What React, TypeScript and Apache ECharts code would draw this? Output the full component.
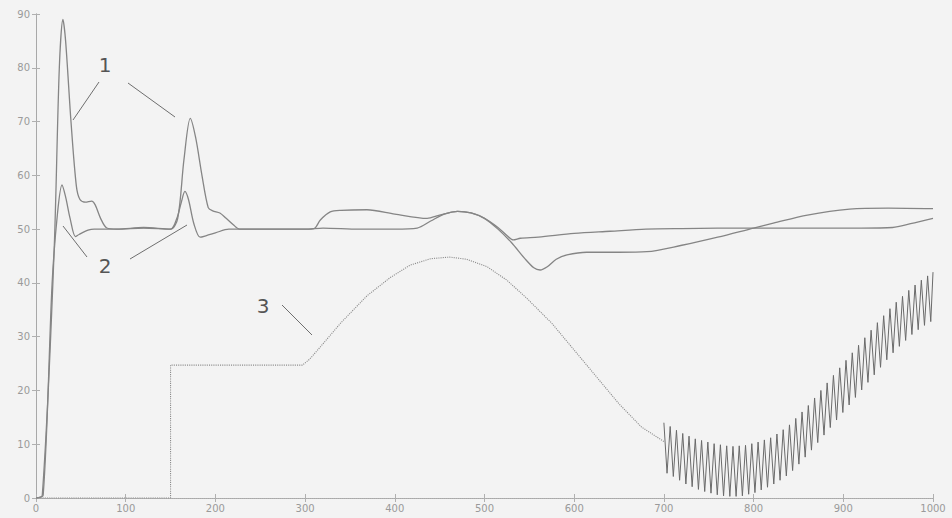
import React, { useEffect, useRef } from "react";
import * as echarts from "echarts";

const xTicks = [0, 100, 200, 300, 400, 500, 600, 700, 800, 900, 1000];
const yTicks = [0, 10, 20, 30, 40, 50, 60, 70, 80, 90];

// curve 1 (tall peaks)
const curve1: [number, number][] = [
  [0, 0], [7, 0.5], [20, 45], [26, 80], [30, 89], [33, 85], [39, 70], [45, 58], [49, 55.5],
  [55, 55], [62, 55.2], [66, 54.5], [72, 52], [79, 50.2], [90, 50], [120, 50.3], [150, 50],
  [158, 52], [165, 63], [172, 70.6], [178, 67], [185, 60], [192, 54], [197, 53.4], [205, 53],
  [212, 52], [220, 50.8], [227, 50], [260, 50], [300, 50], [320, 50.2], [360, 50], [400, 50],
  [425, 50.2], [440, 51.5], [455, 52.8], [470, 53.3], [485, 53], [500, 52], [515, 50.3],
  [525, 48.8], [532, 48], [540, 48.3], [560, 48.5], [600, 49.2], [640, 49.6], [680, 50],
  [720, 50.1], [800, 50.2], [860, 50.2], [920, 50.2], [955, 50.3], [975, 51], [1000, 52],
];

// curve 2 (lower peaks)
const curve2: [number, number][] = [
  [0, 0], [8, 0.5], [18, 40], [24, 53], [29, 58.2], [33, 56], [38, 52], [44, 48.6], [48, 49],
  [58, 49.8], [65, 50], [90, 50], [120, 50.2], [150, 50], [157, 52], [162, 55], [166, 57],
  [170, 55.5], [176, 51], [183, 48.5], [190, 48.8], [200, 49.3], [215, 50], [260, 50],
  [300, 50], [310, 50.1], [317, 51.7], [328, 53.2], [340, 53.5], [369, 53.6], [400, 52.8],
  [436, 52], [450, 52.6], [470, 53.3], [485, 53], [500, 52], [515, 50], [530, 47.5],
  [545, 44.5], [555, 42.8], [562, 42.4], [570, 43], [580, 44.4], [592, 45.2], [614, 45.7],
  [650, 45.7], [681, 45.8], [720, 47], [760, 48.5], [800, 50.2], [822, 51.1], [860, 52.6],
  [907, 53.7], [950, 53.9], [1000, 53.8],
];

// curve 3 (reference, smooth part)
const curve3: [number, number][] = [
  [0, 0], [150, 0], [150, 24.7], [297, 24.7], [305, 25.8], [317, 28.1], [340, 32.6],
  [369, 37.6], [395, 41], [417, 43.3], [440, 44.5], [461, 44.8], [480, 44.4], [503, 43],
  [525, 40.5], [548, 37], [575, 32.5], [600, 27.5], [625, 22.5], [650, 17.5], [675, 13.2],
  [700, 10.5],
];

// curve 3 (oscillating part)
const curve3Osc: [number, number][] = [
  [700, 14], [703.5, 4.6], [707, 13.3], [710.5, 4], [714, 12.6], [717.5, 3.3], [721, 12],
  [724.5, 2.6], [728, 11.5], [731.5, 2.1], [735, 11], [738.5, 1.6], [742, 10.7], [745.5, 1.2],
  [749, 10.4], [752.5, 0.9], [756, 10.1], [759.5, 0.6], [763, 9.9], [766.5, 0.4], [770, 9.7],
  [773.5, 0.3], [777, 9.6], [780.5, 0.3], [784, 9.7], [787.5, 0.4], [791, 9.8], [794.5, 0.7],
  [798, 10.1], [801.5, 1], [805, 10.4], [808.5, 1.5], [812, 10.8], [815.5, 2], [819, 11.2],
  [822.5, 2.6], [826, 11.9], [829.5, 3.3], [833, 12.7], [836.5, 4.1], [840, 13.6], [843.5, 5.1],
  [847, 14.8], [850.5, 6.3], [854, 16], [857.5, 7.6], [861, 17.2], [864.5, 8.9], [868, 18.6],
  [871.5, 10.3], [875, 20], [878.5, 11.7], [882, 21.4], [885.5, 13.1], [889, 22.8],
  [892.5, 14.5], [896, 24.2], [899.5, 15.9], [903, 25.6], [906.5, 17.3], [910, 27],
  [913.5, 18.7], [917, 28.4], [920.5, 20.1], [924, 29.8], [927.5, 21.5], [931, 31.2],
  [934.5, 22.9], [938, 32.6], [941.5, 24.3], [945, 33.9], [948.5, 25.7], [952, 35.2],
  [955.5, 27], [959, 36.4], [962.5, 28.2], [966, 37.5], [969.5, 29.3], [973, 38.6],
  [976.5, 30.4], [980, 39.6], [983.5, 31.3], [987, 40.5], [990.5, 32.1], [994, 41.3],
  [997.5, 32.8], [1000, 42],
];

const labels = ["1", "2", "3"];

export default function App() {
  const ref = useRef<HTMLDivElement>(null);
  useEffect(() => {
    if (!ref.current) return;
    const chart = echarts.init(ref.current, undefined, { renderer: "svg" });
    const axisLabel = { color: "#9a9a9a", fontSize: 10, fontFamily: "DejaVu Sans" };
    const tick = { show: true, inside: true, length: 4, lineStyle: { color: "#b0b0b0" } };
    const lineColor = "#858585";
    const leader = (x1: number, y1: number, x2: number, y2: number) => ({
      type: "line",
      shape: { x1, y1, x2, y2 },
      style: { stroke: "#6e6e6e", lineWidth: 1 },
      z: 10,
    });
    const label = (text: string, x: number, y: number) => ({
      type: "text",
      x,
      y,
      style: {
        text,
        fill: "#555",
        font: "20px 'DejaVu Sans'",
        align: "center",
        verticalAlign: "middle",
      },
      z: 10,
    });
    chart.setOption({
      animation: false,
      backgroundColor: "#f3f3f3",
      grid: { left: 36, right: 19, top: 14, bottom: 20 },
      xAxis: [
        {
          type: "value",
          min: 0,
          max: 1000,
          interval: 100,
          axisLine: { show: true, lineStyle: { color: "#a8a8a8", type: "dotted" } },
          axisTick: tick,
          axisLabel: { ...axisLabel, margin: 5, formatter: (v: number) => (xTicks.includes(v) ? String(v) : "") },
          splitLine: { show: false },
        },
        {
          type: "value",
          position: "top",
          min: 0,
          max: 1000,
          interval: 100,
          axisLine: { show: true, lineStyle: { color: "#a8a8a8", type: "dotted" } },
          axisTick: tick,
          axisLabel: { show: false },
          splitLine: { show: false },
        },
      ],
      yAxis: [
        {
          type: "value",
          min: 0,
          max: 90,
          interval: 10,
          axisLine: { show: true, lineStyle: { color: "#a8a8a8" } },
          axisTick: tick,
          axisLabel: { ...axisLabel, margin: 6, formatter: (v: number) => (yTicks.includes(v) ? String(v) : "") },
          splitLine: { show: false },
        },
        {
          type: "value",
          position: "right",
          min: 0,
          max: 90,
          interval: 10,
          axisLine: { show: true, lineStyle: { color: "#a8a8a8" } },
          axisTick: tick,
          axisLabel: { show: false },
          splitLine: { show: false },
        },
      ],
      series: [
        {
          name: "1",
          type: "line",
          data: curve1,
          showSymbol: false,
          smooth: 0.3,
          lineStyle: { color: lineColor, width: 1.3 },
        },
        {
          name: "2",
          type: "line",
          data: curve2,
          showSymbol: false,
          smooth: 0.3,
          lineStyle: { color: lineColor, width: 1.3 },
        },
        {
          name: "3",
          type: "line",
          data: curve3,
          showSymbol: false,
          lineStyle: { color: "#8c8c8c", width: 1.1, type: "dotted" },
        },
        {
          name: "3osc",
          type: "line",
          data: curve3Osc,
          showSymbol: false,
          lineStyle: { color: "#6a6a6a", width: 1 },
        },
      ],
      graphic: [
        label(labels[0], 105, 65),
        leader(99, 82, 73, 120),
        leader(128, 83, 175, 117),
        label(labels[1], 105, 266),
        leader(63, 226, 87, 257),
        leader(130, 259, 187, 225),
        label(labels[2], 263, 306),
        leader(282, 305, 312, 335),
      ],
    });
    return () => chart.dispose();
  }, []);
  return (
    <div
      ref={ref}
      style={{ position: "absolute", left: 0, top: 0, width: 952, height: 518 }}
    />
  );
}
